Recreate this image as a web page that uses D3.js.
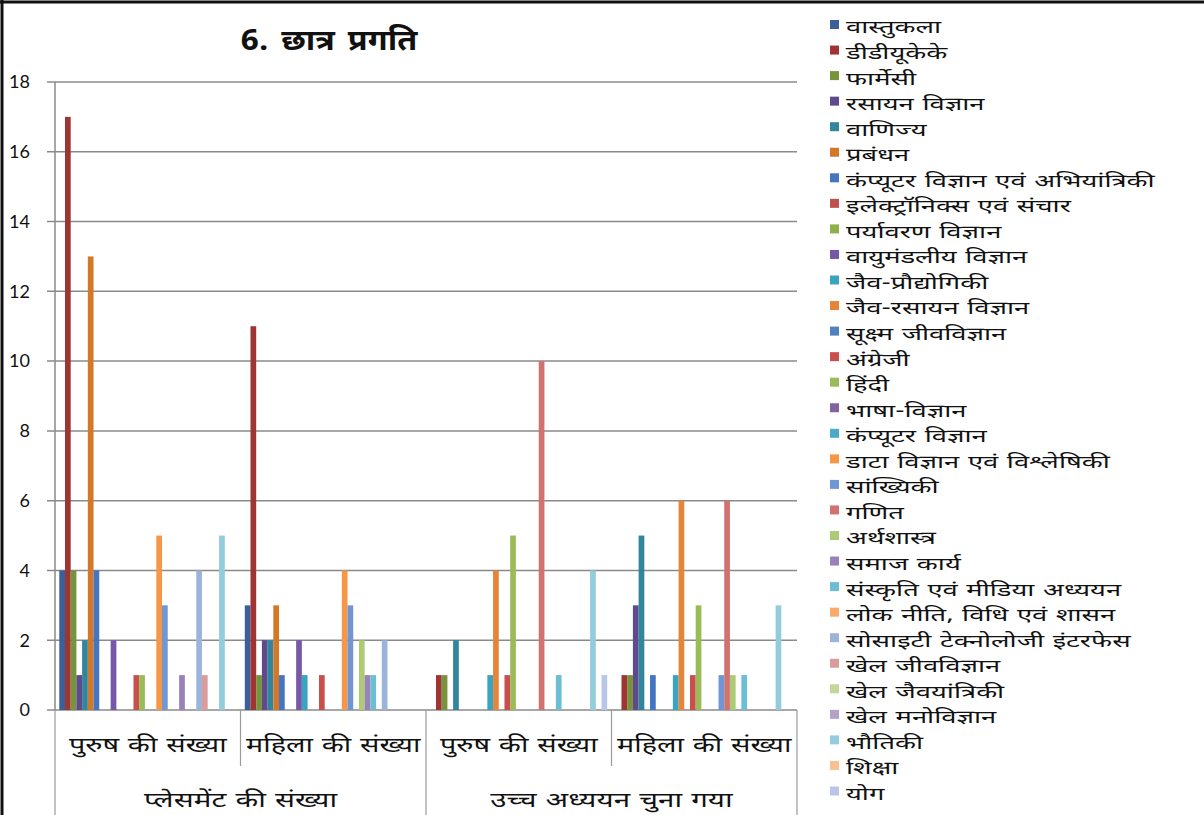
<!DOCTYPE html>
<html>
<head>
<meta charset="utf-8">
<script src="https://cdn.jsdelivr.net/npm/d3@7"></script>
<style>
html,body{margin:0;padding:0;background:#fff;}
svg{display:block;}
</style>
</head>
<body>
<svg id="chart" width="1204" height="815"></svg>
<script>
const title = "6. छात्र प्रगति";
const groups = ["पुरुष की संख्या", "महिला की संख्या", "पुरुष की संख्या", "महिला की संख्या"];
const majorGroups = ["प्लेसमेंट की संख्या", "उच्च अध्ययन चुना गया"];
const seriesNames = ["वास्तुकला","डीडीयूकेके","फार्मेसी","रसायन विज्ञान","वाणिज्य","प्रबंधन",
  "कंप्यूटर विज्ञान एवं अभियांत्रिकी","इलेक्ट्रॉनिक्स एवं संचार","पर्यावरण विज्ञान","वायुमंडलीय विज्ञान",
  "जैव-प्रौद्योगिकी","जैव-रसायन विज्ञान","सूक्ष्म जीवविज्ञान","अंग्रेजी","हिंदी","भाषा-विज्ञान",
  "कंप्यूटर विज्ञान","डाटा विज्ञान एवं विश्लेषिकी","सांख्यिकी","गणित","अर्थशास्त्र","समाज कार्य",
  "संस्कृति एवं मीडिया अध्ययन","लोक नीति, विधि एवं शासन","सोसाइटी टेक्नोलोजी इंटरफेस","खेल जीवविज्ञान",
  "खेल जैवयांत्रिकी","खेल मनोविज्ञान","भौतिकी","शिक्षा","योग"];
const seriesColors = ["#3A5F9A","#9E3532","#77933C","#5F4B8B","#31859C","#D47828",
  "#4375C0","#C0504D","#8DB04A","#7658A8","#3AA3C0","#E5853A",
  "#4F81BD","#C94F4C","#9BBB59","#8064A2","#4BACC6","#F79646",
  "#7097D4","#D07370","#AECA76","#9882B8","#6CBED4","#F8AB6B",
  "#9DB4DA","#DA9C9A","#C3D69B","#B2A2C7","#93CDDD","#FAC090","#B9C6E8"];
// values per group (index = series)
const placementMen   = [4,17,4,1,2,13,4,0,0,2,0,0,0,1,1,0,0,5,3,0,0,1,0,0,4,1,0,0,5,0,0];
const placementWomen = [3,11,1,2,2,3,1,0,0,2,1,0,0,1,0,0,0,4,3,0,2,1,1,0,2,0,0,0,0,0,0];
const higherMen      = [0,1,1,0,2,0,0,0,0,0,1,4,0,1,5,0,0,0,0,10,0,0,1,0,0,0,0,0,4,0,1];
const higherWomen    = [0,1,1,3,5,0,1,0,0,0,1,6,0,1,3,0,0,0,1,6,1,0,1,0,0,0,0,0,3,0,0];
const yTicks = [0,2,4,6,8,10,12,14,16,18];

const groupValues = [placementMen, placementWomen, higherMen, higherWomen];

const svg = d3.select("#chart");
const W = 1204, H = 815;
const font = "'Noto Sans Devanagari','Noto Sans','Lato','DejaVu Sans',sans-serif";

// helper: horizontally stretched text (to mimic the wider original Devanagari face)
function wideText(x, yy, str, opts){
  const g = svg.append("g").attr("transform",`translate(${x},${yy}) scale(${opts.sx},1)`);
  return g.append("text").attr("x",0).attr("y",0).attr("dy",opts.dy || "0.35em")
    .attr("text-anchor",opts.anchor || "start").attr("font-family",font)
    .attr("font-size",opts.size).attr("font-weight",opts.weight || "normal")
    .style("word-spacing",(opts.ws||0)+"px").attr("fill","#111").text(str);
}

// frame
svg.append("line").attr("x1",2).attr("y1",0).attr("x2",2).attr("y2",H).attr("stroke","#111").attr("stroke-width",3);
svg.append("line").attr("x1",0).attr("y1",2).attr("x2",W).attr("y2",2).attr("stroke","#111").attr("stroke-width",3);

const plotL = 55, plotR = 797, plotT = 82, plotB = 710;
const x0 = d3.scaleBand().domain(d3.range(groups.length)).range([plotL, plotR]).padding(0);
const x1 = d3.scaleBand().domain(d3.range(seriesNames.length)).range([0, x0.bandwidth()]).paddingInner(0).paddingOuter(0.75);
const y = d3.scaleLinear().domain([0,18]).range([plotB, plotT]);

// gridlines + y tick labels
yTicks.forEach(t=>{
  svg.append("line").attr("x1",plotL-8).attr("x2",plotR).attr("y1",y(t)).attr("y2",y(t))
    .attr("stroke","#8a8a8a").attr("stroke-width",1.5);
  svg.append("text").attr("x",30).attr("y",y(t)).attr("dy","0.35em").attr("text-anchor","end")
    .attr("font-family","Lato,'Open Sans',sans-serif").attr("font-size",18).attr("fill","#111").text(t);
});
// y axis line
svg.append("line").attr("x1",plotL).attr("x2",plotL).attr("y1",plotT).attr("y2",plotB)
  .attr("stroke","#8a8a8a").attr("stroke-width",1.5);

// bars
groupValues.forEach((vals,gi)=>{
  const g = svg.append("g").attr("transform",`translate(${x0(gi)},0)`);
  g.selectAll("rect").data(vals.map((v,i)=>({v,i})).filter(d=>d.v>0)).enter().append("rect")
    .attr("x",d=>x1(d.i)).attr("width",x1.bandwidth())
    .attr("y",d=>y(d.v)).attr("height",d=>y(0)-y(d.v))
    .attr("fill",d=>seriesColors[d.i]);
});

// category dividers
const divColor = "#9a9a9a";
d3.range(groups.length+1).forEach(k=>{
  const xx = k < groups.length ? x0(k) : plotR;
  const major = (k % 2 === 0);
  svg.append("line").attr("x1",xx).attr("x2",xx).attr("y1",plotB).attr("y2", major ? H : 766)
    .attr("stroke",divColor).attr("stroke-width",1.2);
});
// group labels
groups.forEach((gname,gi)=>{
  wideText(x0(gi)+x0.bandwidth()/2, 745, gname, {sx:1.37, size:21, ws:1, anchor:"middle"});
});
majorGroups.forEach((m,mi)=>{
  wideText(x0(mi*2)+x0.bandwidth(), 800, m, {sx:1.41, size:21, ws:1, anchor:"middle"});
});

// title
wideText(329, 40, title, {sx:1.12, size:29, ws:4, anchor:"middle", weight:"bold"});

// legend
const legY0 = 28, legStep = 25.55;
seriesNames.forEach((s,i)=>{
  const yy = legY0 + i*legStep;
  svg.append("rect").attr("x",830).attr("y",yy-8).attr("width",9).attr("height",9).attr("fill",seriesColors[i]);
  wideText(846, yy, s, {sx:1.52, size:18, ws:1, dy:"0.3em"});
});
</script>
</body>
</html>
